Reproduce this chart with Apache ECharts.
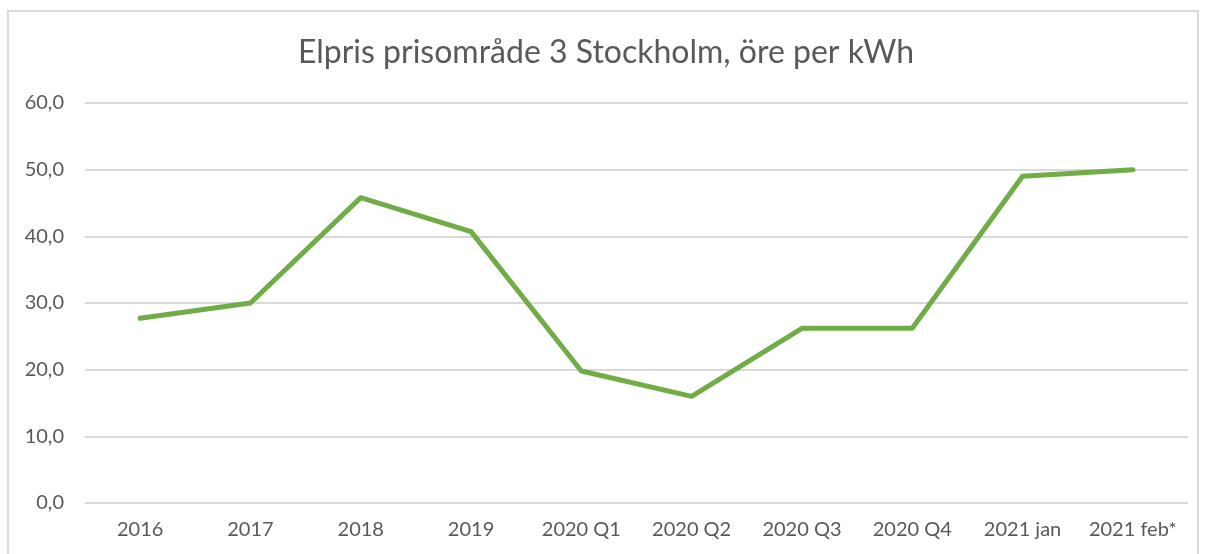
<!DOCTYPE html>
<html>
<head>
<meta charset="utf-8">
<script src="https://cdn.jsdelivr.net/npm/echarts@6/dist/echarts.min.js"></script>
<style>
  html, body { margin: 0; padding: 0; background: #fff; }
  #frame { position: absolute; left: 7px; top: 10px; width: 1192px; height: 560px; border: 2px solid #d9d9d9; box-sizing: border-box; }
  #main { position: absolute; left: 0; top: 0; width: 1212px; height: 554px; }
</style>
</head>
<body>
<div id="frame"></div>
<div id="main"></div>
<script>
// kategorier och värden (öre per kWh)
const categories = ['2016', '2017', '2018', '2019', '2020 Q1', '2020 Q2', '2020 Q3', '2020 Q4', '2021 jan', '2021 feb*'];
const prices = [27.7, 30.0, 45.8, 40.7, 19.8, 16.0, 26.2, 26.2, 49.0, 50.0];
const titleText = 'Elpris prisområde 3 Stockholm, öre per kWh';

const myChart = echarts.init(document.getElementById('main'));
const option = {
  backgroundColor: 'transparent',
  animation: false,
  title: {
    text: titleText,
    left: 'center',
    top: 32,
    textStyle: {
      color: '#595959',
      fontSize: 32,
      fontWeight: 'normal',
      fontFamily: 'Lato'
    }
  },
  grid: {
    left: 85,
    right: 24,
    top: 103,
    bottom: 51
  },
  xAxis: {
    type: 'category',
    data: categories,
    boundaryGap: true,
    axisLine: { show: false },
    axisTick: { show: false },
    axisLabel: {
      color: '#595959',
      fontSize: 20,
      fontFamily: 'Lato',
      margin: 17,
      interval: 0
    }
  },
  yAxis: {
    type: 'value',
    min: 0,
    max: 60,
    interval: 10,
    axisLine: { show: false },
    axisTick: { show: false },
    axisLabel: {
      color: '#595959',
      fontSize: 20,
      fontFamily: 'Lato',
      margin: 21,
      formatter: v => v.toFixed(1).replace('.', ',')
    },
    splitLine: {
      lineStyle: { color: '#d9d9d9', width: 2 }
    }
  },
  series: [
    {
      name: 'Elpris',
      type: 'line',
      data: prices,
      showSymbol: false,
      symbol: 'none',
      lineStyle: { color: '#70ad47', width: 5, cap: 'round', join: 'round' }
    }
  ]
};
myChart.setOption(option);
</script>
</body>
</html>
